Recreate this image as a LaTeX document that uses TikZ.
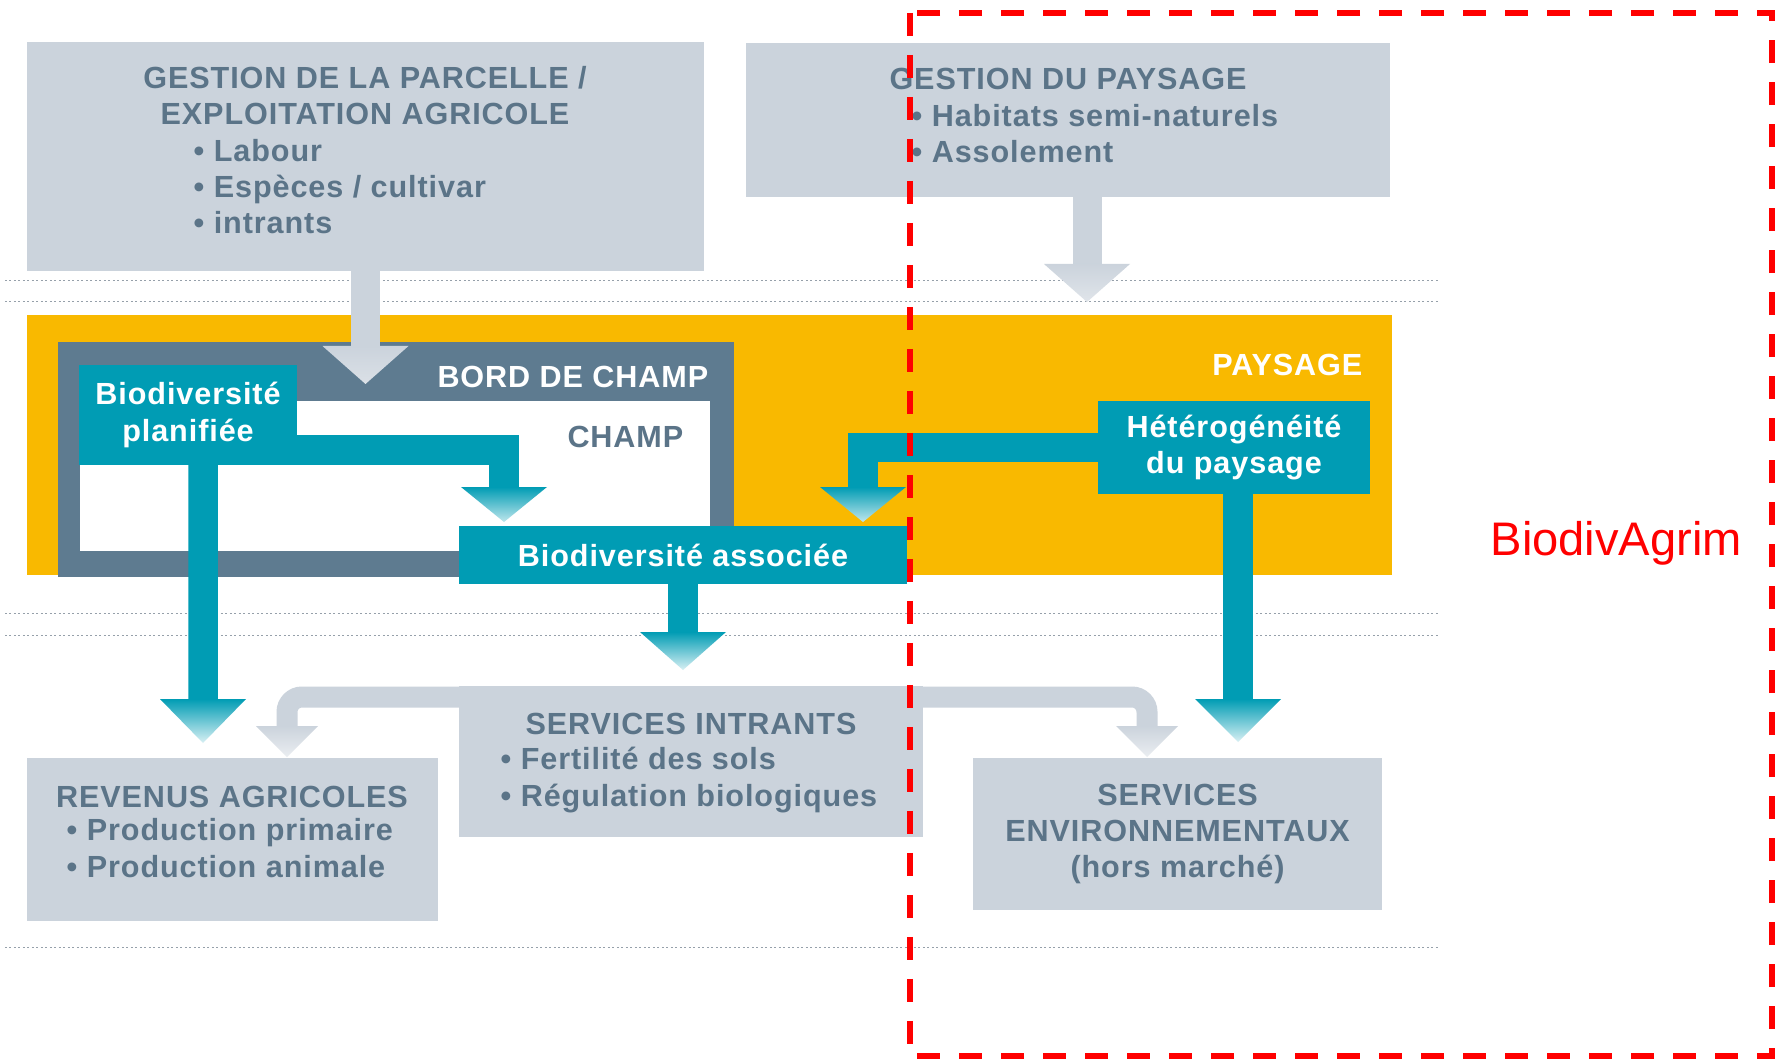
\documentclass[tikz,border=0pt]{standalone}
\usepackage{fontspec}
\setmainfont{Liberation Sans}
\newfontfamily\diagfamily[LetterSpace=3]{Liberation Sans}
\usetikzlibrary{positioning,calc}
\definecolor{boxgray}{RGB}{203,211,220}
\definecolor{slatetext}{RGB}{91,116,136}
\definecolor{bordslate}{RGB}{94,123,144}
\definecolor{agriteal}{RGB}{0,156,180}
\definecolor{agriyellow}{RGB}{249,185,0}
\definecolor{dotgray}{RGB}{150,160,170}

\newcommand{\diagfont}{\diagfamily\fontsize{8.7}{10.3}\selectfont\bfseries}
% shaded head of a block arrow: top colour, tip colour, tip, half width, length
\newcommand{\headdown}[5]{%
  \shade[top color=#1, bottom color=#2] ($(#3)+(-#4,-#5)$) -- ($(#3)+(#4,-#5)$) -- (#3) -- cycle;}

\begin{document}
\begin{tikzpicture}[
    x=0.1mm, y=-0.1mm,
    box/.style={anchor=north west, inner sep=0, outer sep=0},
    graybox/.style={box, fill=boxgray},
    tealbox/.style={box, fill=agriteal, text=white, font=\diagfont, align=center},
    graytext/.style={inner sep=0, text=slatetext, font=\diagfont},
    whitetext/.style={inner sep=0, text=white, font=\diagfont},
    dots/.style={dotgray, line width=0.1mm, dash pattern=on 0.2mm off 0.25mm},
    tealbar/.style={agriteal, line width=2.95mm},
    graystem/.style={boxgray, line width=2.9mm},
    graybar/.style={boxgray, line width=2.1mm, rounded corners=1.5mm}
]
\fill[white] (0,0) rectangle (1777,1059);
\useasboundingbox (0,0) rectangle (1777,1059);

% dotted level lines
\foreach \y in {281,302,613,635,947}
  \draw[dots] (5,\y) -- (1440,\y);

% management boxes
\node[graybox, minimum width=67.7mm, minimum height=22.9mm] (parcelle) at (27,42) {};
\node[graybox, minimum width=64.4mm, minimum height=15.4mm] (gpaysage) at (746,43) {};

% landscape, field border, field
\node[box, fill=agriyellow, minimum width=136.5mm, minimum height=26mm] (paysage) at (27,315) {};
\node[box, fill=bordslate, minimum width=67.6mm, minimum height=23.5mm] (bord) at (58,342) {};
\node[box, fill=white, minimum width=63mm, minimum height=15mm] (champ) at (80,401) {};
\node[tealbox, minimum width=21.8mm, minimum height=10mm] (planif) at (79,365) {Biodiversité\\planifiée};
\node[tealbox, minimum width=44.8mm, minimum height=5.8mm] (associee) at (459,526) {Biodiversité associée};
\node[tealbox, minimum width=27.2mm, minimum height=9.3mm] (hetero) at (1098,401) {Hétérogénéité\\du paysage};

% services
\node[graybox, minimum width=46.4mm, minimum height=15.1mm] (intrants) at (459,686) {};
\node[graybox, minimum width=41.1mm, minimum height=16.3mm] (revenus) at (27,758) {};
\node[graybox, minimum width=40.9mm, minimum height=15.2mm, text=slatetext, font=\diagfont, align=center] (environ) at (973,758) {SERVICES\\ENVIRONNEMENTAUX\\(hors marché)};

% arrow tips
\coordinate (parcelle-tip) at ($(parcelle.south |- bord.north)+(0,42)$);
\coordinate (gpaysage-tip) at ($(gpaysage.south |- paysage.north)+(19,-13)$);
\coordinate (planif-tip) at ($(revenus.north west)+(176,-15)$);
\coordinate (champ-tip) at ($(associee.north west)+(45,-4)$);
\coordinate (hetero-tip) at ($(associee.north east)+(-44,-4)$);
\coordinate (associee-tip) at ($(associee.south |- intrants.north)+(0,-16)$);
\coordinate (environ-tip) at ($(hetero.south |- environ.north)+(4,-16)$);
\coordinate (revenus-tip2) at ($(revenus.north west)+(260,-1)$);
\coordinate (environ-tip2) at ($(environ.north west)+(174,-1)$);

% gray arrows
\draw[graystem] (parcelle.south) -- ($(parcelle-tip)+(0,-38)$);
\headdown{boxgray}{boxgray!70!white}{parcelle-tip}{43}{38}
\draw[graystem] ($(gpaysage.south)+(19,0)$) -- ($(gpaysage-tip)+(0,-38)$);
\headdown{boxgray}{boxgray!60!white}{gpaysage-tip}{43}{38}
\draw[graybar] ($(intrants.north west)+(0,11)$) -| ($(revenus-tip2)+(0,-31)$);
\headdown{boxgray}{boxgray!40!white}{revenus-tip2}{31}{31}
\draw[graybar] ($(intrants.north east)+(0,11)$) -| ($(environ-tip2)+(0,-31)$);
\headdown{boxgray}{boxgray!40!white}{environ-tip2}{31}{31}

% teal arrows
\draw[tealbar] ($(planif.south east)+(0,-15)$) -| ($(champ-tip)+(0,-35)$);
\headdown{agriteal}{agriteal!25}{champ-tip}{43}{35}
\draw[tealbar] (hetero.west) -| ($(hetero-tip)+(0,-35)$);
\headdown{agriteal}{agriteal!25}{hetero-tip}{43}{35}
\draw[tealbar] ($(planif.south)+(15,0)$) -- ($(planif-tip)+(0,-44)$);
\headdown{agriteal}{agriteal!15}{planif-tip}{43}{44}
\draw[tealbar] (associee.south) -- ($(associee-tip)+(0,-38)$);
\headdown{agriteal}{agriteal!15}{associee-tip}{43}{38}
\draw[tealbar] ($(hetero.south)+(4,0)$) -- ($(environ-tip)+(0,-43)$);
\headdown{agriteal}{agriteal!15}{environ-tip}{43}{43}

% texts (base = baseline of the last line)
\node[graytext, align=center, anchor=base] (parcelle-title) at (365,125) {GESTION DE LA PARCELLE /\\EXPLOITATION AGRICOLE};
\node[graytext, align=left, anchor=base west] (parcelle-list) at (193,234) {• Labour\\• Espèces / cultivar\\• intrants};
\node[graytext, anchor=base] (gpaysage-title) at (1068,90) {GESTION DU PAYSAGE};
\node[graytext, align=left, anchor=base west] (gpaysage-list) at (911,163) {• Habitats semi-naturels\\• Assolement};
\node[whitetext, anchor=base east] (bord-title) at (709,388) {BORD DE CHAMP};
\node[graytext, anchor=base east] (champ-title) at (684,447) {CHAMP};
\node[whitetext, anchor=base east] (paysage-title) at (1363,375) {PAYSAGE};
\node[graytext, anchor=base] (intrants-title) at (691,734) {SERVICES INTRANTS};
\node[graytext, align=left, anchor=base west] (intrants-list) at (500,806) {• Fertilité des sols\\• Régulation biologiques};
\node[graytext, anchor=base] (revenus-title) at (232,807) {REVENUS AGRICOLES};
\node[graytext, align=left, anchor=base west] (revenus-list) at (66,877) {• Production primaire\\• Production animale};

% BiodivAgrim zone
\draw[red, line width=0.55mm, dash pattern=on 2.3mm off 1.9mm] (910,13) rectangle (1772,1056);
\node[inner sep=0, anchor=base west, text=red, font=\fontsize{13.4}{16}\selectfont] (biodivagrim) at (1490,555) {BiodivAgrim};

\end{tikzpicture}
\end{document}
